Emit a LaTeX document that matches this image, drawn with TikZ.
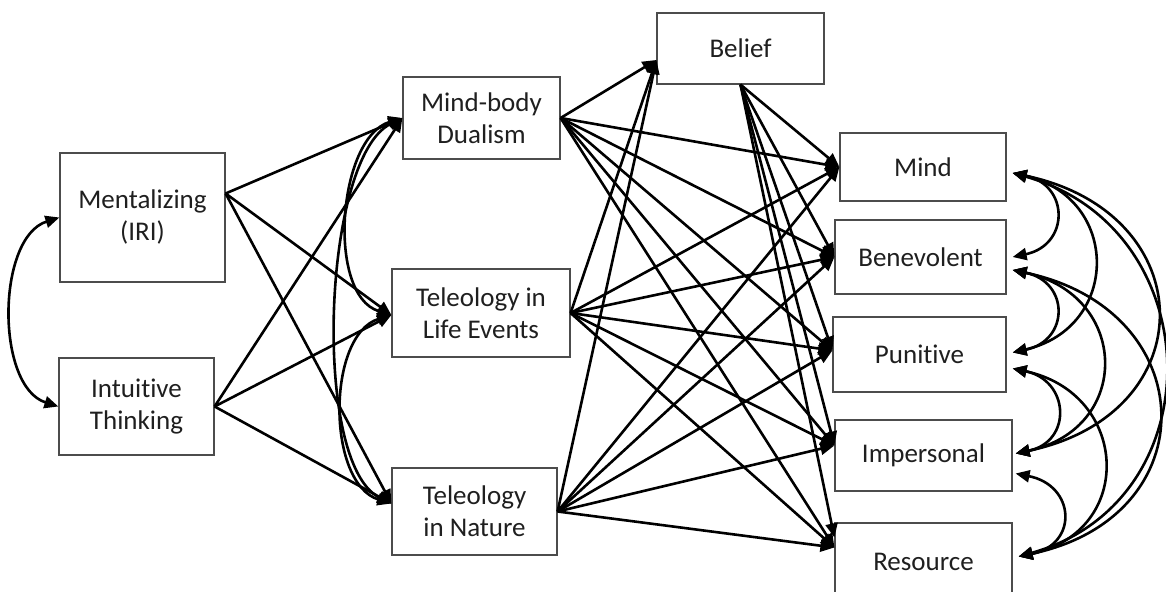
\documentclass[tikz,border=0pt]{standalone}
\usepackage{fontspec}
\setmainfont{Carlito}[Ligatures={CommonOff}]
\usetikzlibrary{arrows.meta}
\begin{document}
\begin{tikzpicture}[x=0.5pt,y=-0.5pt,
  box/.style={draw=black!70, line width=0.6pt, inner sep=0pt, align=center,
    font=\fontsize{13.5pt}{16pt}\selectfont, text=black!88},
  arr/.style={line width=1.3pt, -{Triangle[length=7pt,width=6pt]}},
  cor/.style={line width=1.3pt, {Triangle[length=7pt,width=6pt]}-{Triangle[length=7pt,width=6pt]}},
]
\useasboundingbox (0,0) rectangle (1166,592);

% nodes
\node[box, minimum width=82.5pt, minimum height=64.5pt] (ment) at (142.5,217.5) {Mentalizing\\(IRI)};
\node[box, minimum width=77.5pt, minimum height=48.5pt] (intu) at (136.5,406.5) {Intuitive\\Thinking};
\node[box, minimum width=78.5pt, minimum height=41pt] (mbd) at (481.5,118) {Mind-body\\Dualism};
\node[box, minimum width=89pt, minimum height=44pt] (tle) at (481,313) {Teleology in\\Life Events};
\node[box, minimum width=82.5pt, minimum height=43.5pt] (tna) at (474.5,511.5) {Teleology\\in Nature};
\node[box, minimum width=83.5pt, minimum height=35.5pt] (bel) at (740.5,48.5) {Belief};
\node[box, minimum width=83pt, minimum height=34pt] (mind) at (923,167) {Mind};
\node[box, minimum width=85.5pt, minimum height=37pt] (bene) at (920.5,257) {Benevolent};
\node[box, minimum width=86.5pt, minimum height=37.5pt] (puni) at (919.5,354.5) {Punitive};
\node[box, minimum width=88.5pt, minimum height=35.5pt] (imp) at (923.5,455.5) {Impersonal};
\node[box, minimum width=88.5pt, minimum height=38.5pt] (res) at (923.5,561.5) {Resource};

% ports
\coordinate (mentR) at ([yshift=12pt]ment.east);
\coordinate (intuR) at (intu.east);
\coordinate (mbdL) at (mbd.west);
\coordinate (tleL) at ([yshift=-1pt]tle.west);
\coordinate (tnaL) at ([yshift=4pt]tna.west);
\coordinate (mbdR) at (mbd.east);
\coordinate (tleR) at (tle.east);
\coordinate (tnaR) at (tna.east);
\coordinate (belL) at ([yshift=-5.75pt]bel.west);
\coordinate (belB) at (bel.south);
\coordinate (mindL) at (mind.west);
\coordinate (beneL) at (bene.west);
\coordinate (puniL) at ([yshift=2pt]puni.west);
\coordinate (impL) at ([yshift=5pt]imp.west);
\coordinate (resL) at ([yshift=7pt]res.west);
\coordinate (resLt) at ([yshift=12pt]res.west);

\coordinate (mindR) at ([xshift=3pt,yshift=-3pt]mind.east);
\coordinate (beneRu) at ([xshift=3pt]bene.east);
\coordinate (beneRl) at ([xshift=3pt,yshift=-6.5pt]bene.east);
\coordinate (puniRu) at ([xshift=3pt,yshift=1pt]puni.east);
\coordinate (puniRl) at ([xshift=3pt,yshift=-7pt]puni.east);
\coordinate (impRu) at ([xshift=1.5pt,yshift=1pt]imp.east);
\coordinate (impRl) at ([xshift=1.5pt,yshift=-9pt]imp.east);
\coordinate (resR) at ([xshift=3pt,yshift=2.5pt]res.east);

% IV -> mediators
\foreach \t in {mbdL,tleL,tnaL} {
  \draw[arr] (mentR) -- (\t);
  \draw[arr] (intuR) -- (\t);
}
% mediators -> belief and DVs
\foreach \s in {mbdR,tleR,tnaR} {
  \foreach \t in {belL,mindL,beneL,puniL,impL,resL} {
    \draw[arr] (\s) -- (\t);
  }
}
% belief -> DVs
\foreach \t in {mindL,beneL,puniL,impL,resLt} {
  \draw[arr] (belB) -- (\t);
}

% correlations left
\draw[cor] (ment.west) .. controls +(-63,20) and +(-63,-20) .. (intu.west);
\draw[cor] (mbdL) .. controls +(-65,20) and +(-65,-20) .. (tleL);
\draw[cor] (tleL) .. controls +(-65,20) and +(-65,-20) .. (tnaL);
\draw[cor] (mbdL) .. controls +(-80,40) and +(-80,-40) .. (tnaL);

% correlations right
\draw[cor] (mindR) .. controls +(57,12) and +(57,-12) .. (beneRu);
\draw[cor] (mindR) .. controls +(108,25) and +(108,-25) .. (puniRu);
\draw[cor] (mindR) .. controls +(190,40) and +(190,-40) .. (impRu);
\draw[cor] (mindR) .. controls +(198,55) and +(198,-55) .. (resR);
\draw[cor] (beneRl) .. controls +(57,12) and +(57,-12) .. (puniRu);
\draw[cor] (beneRl) .. controls +(117,25) and +(117,-25) .. (impRu);
\draw[cor] (beneRl) .. controls +(190,40) and +(190,-40) .. (resR);
\draw[cor] (puniRl) .. controls +(57,12) and +(57,-12) .. (impRu);
\draw[cor] (puniRl) .. controls +(117,25) and +(117,-25) .. (resR);
\draw[cor] (impRl) .. controls +(60,12) and +(60,-12) .. (resR);
\end{tikzpicture}
\end{document}
